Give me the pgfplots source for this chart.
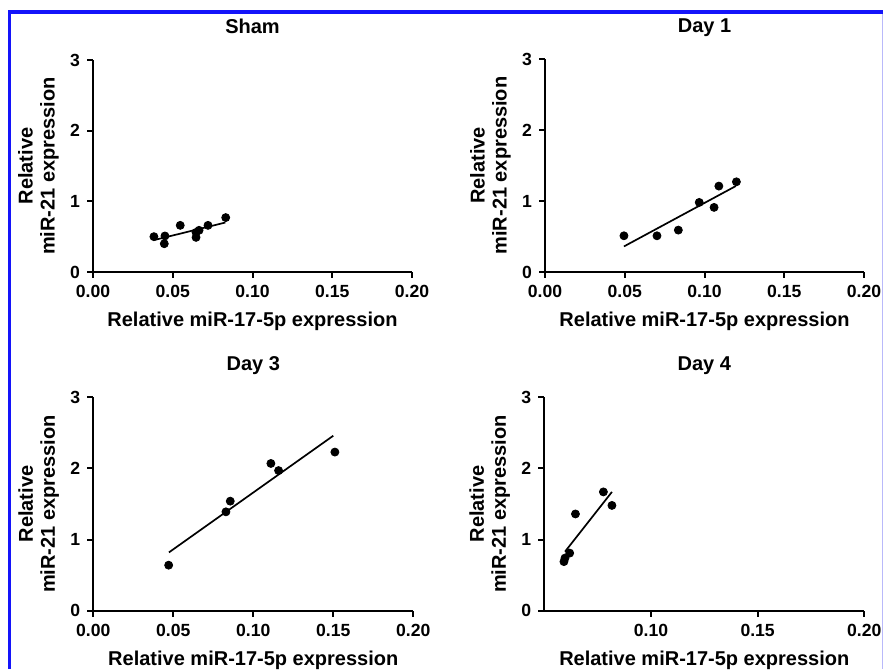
\documentclass[border=0pt]{standalone}
\usepackage{fontspec}
\setmainfont{Liberation Sans}
\usepackage{pgfplots}
\pgfplotsset{compat=1.18}
\usepackage{pgfplotstable}

\definecolor{frameblue}{RGB}{20,20,250}
\definecolor{framelight}{RGB}{185,185,250}

% data: x = relative miR-17-5p, y = relative miR-21
\pgfplotstableread{
x y
0.0382 0.50
0.0451 0.51
0.0447 0.40
0.0547 0.66
0.0646 0.56
0.0646 0.49
0.0665 0.59
0.0721 0.66
0.0832 0.77
}\sham
\pgfplotstableread{
x y
0.0495 0.51
0.0702 0.51
0.0836 0.59
0.0967 0.98
0.1060 0.91
0.1090 1.21
0.1200 1.27
}\dayone
\pgfplotstableread{
x y
0.0471 0.64
0.0829 1.39
0.0856 1.54
0.1110 2.07
0.1158 1.97
0.1510 2.23
}\daythree
\pgfplotstableread{
x y
0.0592 0.69
0.0597 0.74
0.0619 0.81
0.0646 1.36
0.0777 1.67
0.0817 1.48
}\dayfour

\newcommand{\labfont}{\fontsize{10}{11}\selectfont\bfseries}

\pgfplotsset{
  panel/.style={
    scale only axis,
    width=160pt, height=106pt,
    axis lines=left,
    axis line style={-, line width=1pt, black},
    tick align=outside,
    major tick length=3pt,
    tick style={line width=1pt, black},
    ymin=0, ymax=3, ytick={0,1,2,3},
    xmax=0.2,
    /pgf/number format/assume math mode=true,
    ticklabel style={font=\fontsize{8.8}{10}\selectfont\bfseries},
    xticklabel style={/pgf/number format/.cd, fixed, fixed zerofill, precision=2},
    xlabel={Relative miR-17-5p expression},
    xlabel style={at={(axis description cs:0.5,0)}, anchor=base, yshift=-27.3pt,
      font=\labfont},
    ylabel={Relative\\miR-21 expression},
    ylabel style={at={(axis description cs:-0.106,0.5)}, anchor=south,
      inner sep=0pt, align=center, font=\labfont},
    clip=false,
  },
  dots/.style={only marks, mark=*, mark size=2pt, black},
  fit/.style={no marks, black, line width=0.85pt},
}

\begin{document}
\begin{tikzpicture}
\path[use as bounding box] (0pt,0pt) rectangle (441.5pt,334.5pt);
% image frame
\draw[framelight, line width=0.5pt] (441pt,328.5pt) -- (441pt,0pt);
\draw[frameblue, line width=1.6pt] (4.75pt,0pt) -- (4.75pt,328.5pt) -- (441.5pt,328.5pt);

\begin{axis}[panel, at={(46.5pt,198.5pt)}, anchor=south west, height=106pt, width=159.5pt,
  xmin=0, xtick={0,0.05,0.1,0.15,0.2}]
  \addplot[dots] table[x=x,y=y]{\sham};
  \addplot[fit] coordinates {(0.038,0.45) (0.083,0.70)};
  \node[anchor=base, yshift=13.3pt, font=\labfont] at (rel axis cs:0.5,1) {Sham};
\end{axis}

\begin{axis}[panel, at={(272.5pt,198.5pt)}, anchor=south west, height=106.5pt, width=159.5pt,
  xmin=0, xtick={0,0.05,0.1,0.15,0.2}]
  \addplot[dots] table[x=x,y=y]{\dayone};
  \addplot[fit] coordinates {(0.0495,0.36) (0.1196,1.21)};
  \node[anchor=base, yshift=13.3pt, font=\labfont] at (rel axis cs:0.5,1) {Day 1};
\end{axis}

\begin{axis}[panel, at={(46.65pt,29.15pt)}, anchor=south west, height=106.7pt, width=160pt,
  xmin=0, xtick={0,0.05,0.1,0.15,0.2}]
  \addplot[dots] table[x=x,y=y]{\daythree};
  \addplot[fit] coordinates {(0.0473,0.82) (0.150,2.46)};
  \node[anchor=base, yshift=13.6pt, font=\labfont] at (rel axis cs:0.5,1) {Day 3};
\end{axis}

\begin{axis}[panel, at={(272.15pt,29.15pt)}, anchor=south west, height=106.7pt, width=160pt,
  xmin=0.05, xtick={0.1,0.15,0.2}]
  \addplot[dots] table[x=x,y=y]{\dayfour};
  \addplot[fit] coordinates {(0.0597,0.83) (0.0817,1.67)};
  \node[anchor=base, yshift=13.6pt, font=\labfont] at (rel axis cs:0.5,1) {Day 4};
\end{axis}
\end{tikzpicture}
\end{document}
